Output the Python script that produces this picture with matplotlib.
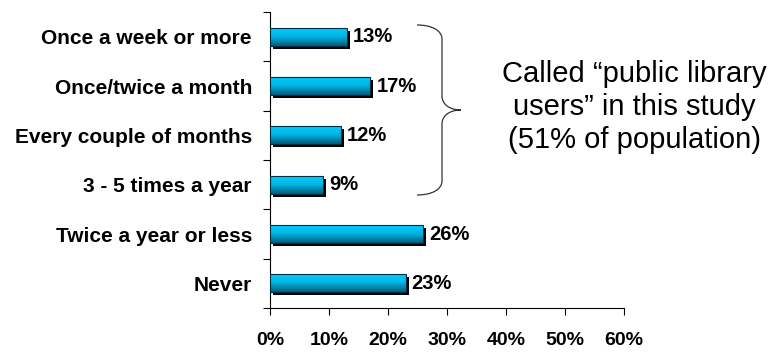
import matplotlib.pyplot as plt
import matplotlib.transforms as mtransforms
from matplotlib.colors import LinearSegmentedColormap
from matplotlib.path import Path
from matplotlib.patches import PathPatch, Rectangle
import numpy as np

plt.rcParams['font.family'] = ['Liberation Sans', 'DejaVu Sans']

categories = ['Once a week or more', 'Once/twice a month', 'Every couple of months',
              '3 - 5 times a year', 'Twice a year or less', 'Never']
values = [13, 17, 12, 9, 26, 23]
xticks = [0, 10, 20, 30, 40, 50, 60]
note = 'Called \u201cpublic library\nusers\u201d in this study\n(51% of population)'

fig = plt.figure(figsize=(7.69, 3.52), dpi=100)
ax = fig.add_axes([270 / 769, 1 - 308 / 352, 354 / 769, 296 / 352])

grad = LinearSegmentedColormap.from_list(
    'bar', [(0, '#00D0FF'), (0.5, '#00B4E4'), (1, '#005C7A')])
pos = np.arange(len(categories))
h = 0.37

# black drop shadow a few pixels right/down
shadow = mtransforms.offset_copy(ax.transData, fig=fig, x=3, y=-3, units='dots')
label_tr = mtransforms.offset_copy(ax.transData, fig=fig, x=6, y=0, units='dots')
for y, v in zip(pos, values):
    ax.add_patch(Rectangle((0, y - h / 2), v, h, facecolor='black', edgecolor='none',
                           transform=shadow, zorder=2))
    bar = Rectangle((0, y - h / 2), v, h, facecolor='none', edgecolor='#00303F',
                    linewidth=0.8, zorder=4)
    ax.add_patch(bar)
    img = ax.imshow(np.linspace(0, 1, 64).reshape(-1, 1), cmap=grad, aspect='auto',
                    extent=(0, v, y + h / 2, y - h / 2), zorder=3)
    img.set_clip_path(bar)
    ax.text(v, y, f'{v}%', va='center', ha='left', fontsize=14.5, fontweight='bold',
            transform=label_tr)

ax.set_xlim(0, 60)
ax.set_ylim(len(categories) - 0.5, -0.5)
ax.set_xticks(xticks)
ax.set_xticklabels([f'{t}%' for t in xticks], fontsize=14, fontweight='bold')
ax.set_yticks(pos)
ax.set_yticklabels(categories, fontsize=15, fontweight='bold')
ax.set_yticks(np.arange(len(categories) + 1) - 0.5, minor=True)
ax.tick_params(axis='y', which='major', length=0, pad=13)
ax.tick_params(axis='y', which='minor', length=5, direction='out', width=0.8)
ax.tick_params(axis='x', length=5, direction='out', width=0.8, pad=12)
ax.spines[['top', 'right']].set_visible(False)
for s in ['left', 'bottom']:
    ax.spines[s].set_linewidth(0.8)

# curly brace round the first four bars (pixel coords, y up)
x0, xv, xc = 417, 442, 461
top, bot, mid = 352 - 25, 352 - 195, 352 - 110
r = 14
verts = [(x0, top),
         (x0 + 0.6 * (xv - x0), top), (xv, top - 0.4 * r), (xv, top - r),
         (xv, mid + r),
         (xv, mid + 0.4 * r), (xc - 0.6 * (xc - xv), mid), (xc, mid),
         (xc - 0.6 * (xc - xv), mid), (xv, mid - 0.4 * r), (xv, mid - r),
         (xv, bot + r),
         (xv, bot + 0.4 * r), (x0 + 0.6 * (xv - x0), bot), (x0, bot)]
codes = [Path.MOVETO,
         Path.CURVE4, Path.CURVE4, Path.CURVE4,
         Path.LINETO,
         Path.CURVE4, Path.CURVE4, Path.CURVE4,
         Path.CURVE4, Path.CURVE4, Path.CURVE4,
         Path.LINETO,
         Path.CURVE4, Path.CURVE4, Path.CURVE4]
fig.add_artist(PathPatch(Path(verts, codes), transform=None, facecolor='none',
                         edgecolor='#333333', linewidth=0.9))

fig.text(634 / 769, 1 - 107 / 352, note, ha='center', va='center', fontsize=21,
         linespacing=1.22)

plt.savefig('out.png', dpi=100)
